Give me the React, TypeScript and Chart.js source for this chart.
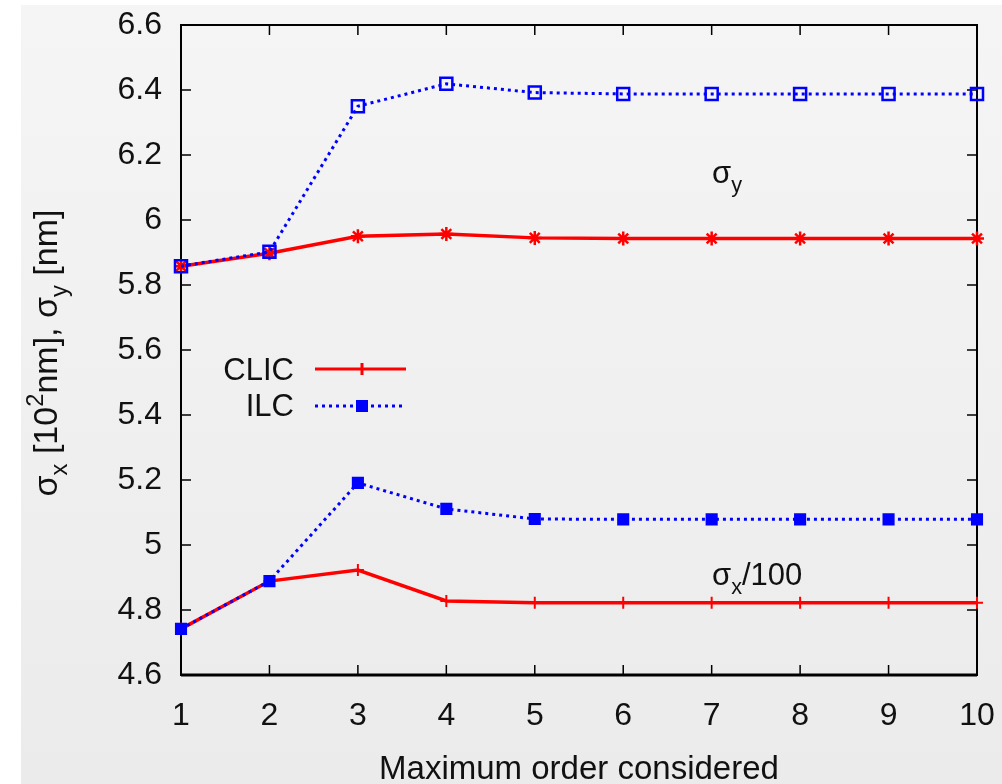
import React, { useEffect, useRef } from "react";
import { Chart, registerables } from "chart.js";

Chart.register(...registerables);

const orders = [1, 2, 3, 4, 5, 6, 7, 8, 9, 10];
const ilcSigmaY = [5.858, 5.902, 6.35, 6.419, 6.392, 6.388, 6.388, 6.388, 6.388, 6.388];
const clicSigmaY = [5.858, 5.898, 5.95, 5.957, 5.945, 5.943, 5.943, 5.943, 5.943, 5.943];
const ilcSigmaX = [4.742, 4.889, 5.191, 5.111, 5.08, 5.079, 5.079, 5.079, 5.079, 5.079];
const clicSigmaX = [4.742, 4.889, 4.923, 4.828, 4.822, 4.822, 4.822, 4.822, 4.822, 4.822];
const yTickValues = [4.6, 4.8, 5.0, 5.2, 5.4, 5.6, 5.8, 6.0, 6.2, 6.4, 6.6];
const seriesNames = ["CLIC", "ILC"];
const xTitle = "Maximum order considered";

const FONT = "'Liberation Sans', Arial, Helvetica, sans-serif";
const RED = "#ff0000";
const BLUE = "#0000ff";

function pts(vals: number[]) {
  return orders.map((o, i) => ({ x: o, y: vals[i] }));
}

function drawRich(
  ctx: CanvasRenderingContext2D,
  parts: { t: string; k?: "sub" | "sup" }[],
  x: number,
  y: number,
  size: number
) {
  let cx = x;
  for (const p of parts) {
    const s = p.k ? size * 0.7 : size;
    ctx.font = `${s}px ${FONT}`;
    const dy = p.k === "sub" ? size * 0.28 : p.k === "sup" ? -size * 0.42 : 0;
    ctx.fillText(p.t, cx, y + dy);
    cx += ctx.measureText(p.t).width;
  }
  return cx - x;
}

function measureRich(ctx: CanvasRenderingContext2D, parts: { t: string; k?: "sub" | "sup" }[], size: number) {
  let w = 0;
  for (const p of parts) {
    const s = p.k ? size * 0.7 : size;
    ctx.font = `${s}px ${FONT}`;
    w += ctx.measureText(p.t).width;
  }
  return w;
}

const decor = {
  id: "decor",
  beforeDraw(chart: any) {
    const ctx = chart.ctx as CanvasRenderingContext2D;
    ctx.save();
    ctx.fillStyle = "#ffffff";
    ctx.fillRect(0, 0, chart.width, chart.height);
    const g = ctx.createLinearGradient(0, 5, 0, chart.height);
    g.addColorStop(0, "#f5f5f5");
    g.addColorStop(1, "#ebebeb");
    ctx.fillStyle = g;
    ctx.fillRect(21, 5, chart.width - 21, chart.height - 5);
    ctx.restore();
  },
  beforeDatasetsDraw(chart: any) {
    const ctx = chart.ctx as CanvasRenderingContext2D;
    const a = chart.chartArea;
    const xs = chart.scales.x;
    const ys = chart.scales.y;
    ctx.save();
    ctx.strokeStyle = "#000";
    ctx.lineWidth = 1.5;
    const tl = 10;
    ctx.beginPath();
    for (const v of orders) {
      const px = xs.getPixelForValue(v);
      ctx.moveTo(px, a.bottom);
      ctx.lineTo(px, a.bottom - tl);
      ctx.moveTo(px, a.top);
      ctx.lineTo(px, a.top + tl);
    }
    for (const v of yTickValues) {
      const py = ys.getPixelForValue(v);
      ctx.moveTo(a.left, py);
      ctx.lineTo(a.left + tl, py);
      ctx.moveTo(a.right, py);
      ctx.lineTo(a.right - tl, py);
    }
    ctx.stroke();
    ctx.lineWidth = 2;
    ctx.strokeRect(a.left, a.top, a.right - a.left, a.bottom - a.top);
    ctx.lineWidth = 3;
    ctx.beginPath();
    ctx.moveTo(a.left, a.bottom);
    ctx.lineTo(a.right, a.bottom);
    ctx.stroke();
    ctx.restore();
  },
  afterDraw(chart: any) {
    const ctx = chart.ctx as CanvasRenderingContext2D;
    const a = chart.chartArea;
    ctx.save();
    ctx.fillStyle = "#111";
    ctx.textBaseline = "alphabetic";

    // legend
    const legendY = [380, 416];
    const lineY = [369, 406];
    ctx.font = `31px ${FONT}`;
    ctx.textAlign = "right";
    seriesNames.forEach((n, i) => {
      ctx.fillStyle = "#111";
      ctx.fillText(n, 294, legendY[i]);
    });
    ctx.textAlign = "left";
    // CLIC sample
    ctx.strokeStyle = RED;
    ctx.lineWidth = 3;
    ctx.setLineDash([]);
    ctx.beginPath();
    ctx.moveTo(315, lineY[0]);
    ctx.lineTo(406, lineY[0]);
    ctx.moveTo(362, lineY[0] - 6);
    ctx.lineTo(362, lineY[0] + 6);
    ctx.stroke();
    // ILC sample
    ctx.strokeStyle = BLUE;
    ctx.setLineDash([3, 4]);
    ctx.beginPath();
    ctx.moveTo(315, lineY[1]);
    ctx.lineTo(406, lineY[1]);
    ctx.stroke();
    ctx.setLineDash([]);
    ctx.fillStyle = BLUE;
    ctx.fillRect(356, lineY[1] - 6, 12, 12);

    // annotations
    ctx.fillStyle = "#111";
    drawRich(ctx, [{ t: "σ" }, { t: "y", k: "sub" }], 712, 183, 31);
    drawRich(ctx, [{ t: "σ" }, { t: "x", k: "sub" }, { t: "/100" }], 712, 585, 31);

    // x title
    ctx.font = `33px ${FONT}`;
    ctx.textAlign = "center";
    ctx.fillText(xTitle, (a.left + a.right) / 2, 779);

    // y title
    const parts: { t: string; k?: "sub" | "sup" }[] = [
      { t: "σ" },
      { t: "x", k: "sub" },
      { t: " [10" },
      { t: "2", k: "sup" },
      { t: "nm], σ" },
      { t: "y", k: "sub" },
      { t: " [nm]" },
    ];
    const size = 34;
    const w = measureRich(ctx, parts, size);
    ctx.translate(57, 353);
    ctx.rotate(-Math.PI / 2);
    ctx.textAlign = "left";
    drawRich(ctx, parts, -w / 2, 0, size);
    ctx.restore();
  },
};

export default function App() {
  const ref = useRef<HTMLCanvasElement | null>(null);
  useEffect(() => {
    document.body.style.margin = "0";
    const canvas = ref.current;
    if (!canvas) return;
    Chart.defaults.font.family = FONT;
    const chart = new Chart(canvas, {
      type: "line",
      data: {
        datasets: [
          {
            label: seriesNames[1] + " sx",
            data: pts(ilcSigmaX),
            borderColor: BLUE,
            backgroundColor: BLUE,
            borderWidth: 3,
            borderDash: [3, 4],
            pointStyle: "rect",
            pointRadius: 7.5,
            pointBorderWidth: 1.5,
            pointBorderColor: BLUE,
            pointBackgroundColor: BLUE,
            tension: 0,
            clip: false,
          } as any,
          {
            label: seriesNames[1] + " sy",
            data: pts(ilcSigmaY),
            borderColor: BLUE,
            backgroundColor: "rgba(0,0,0,0)",
            borderWidth: 3,
            borderDash: [3, 4],
            pointStyle: "rect",
            pointRadius: 8.5,
            pointBorderWidth: 2.5,
            pointBorderColor: BLUE,
            pointBackgroundColor: "rgba(0,0,0,0)",
            tension: 0,
            clip: false,
          } as any,
          {
            label: seriesNames[0] + " sx",
            data: pts(clicSigmaX),
            borderColor: RED,
            backgroundColor: RED,
            borderWidth: 3.5,
            pointStyle: "cross",
            pointRadius: 6,
            pointBorderWidth: 2,
            pointBorderColor: RED,
            tension: 0,
            clip: false,
          } as any,
          {
            label: seriesNames[0] + " sy",
            data: pts(clicSigmaY),
            borderColor: RED,
            backgroundColor: RED,
            borderWidth: 3.5,
            pointStyle: "star",
            pointRadius: 7,
            pointBorderWidth: 2.5,
            pointBorderColor: RED,
            tension: 0,
            clip: false,
          } as any,
        ],
      },
      options: {
        animation: false,
        responsive: false,
        maintainAspectRatio: false,
        layout: { padding: { left: 0, right: 25, top: 25, bottom: 0 } },
        plugins: { legend: { display: false }, tooltip: { enabled: false } },
        scales: {
          x: {
            type: "linear",
            min: 1,
            max: 10,
            grid: { display: false, drawTicks: false },
            border: { display: false },
            ticks: {
              stepSize: 1,
              autoSkip: false,
              maxRotation: 0,
              color: "#111",
              font: { size: 32, family: FONT },
              padding: 22,
            },
            afterBuildTicks: (s: any) => {
              s.ticks = orders.map((v) => ({ value: v }));
            },
            afterFit: (s: any) => {
              s.height = 109;
              s.paddingLeft = 0;
              s.paddingRight = 0;
            },
          },
          y: {
            type: "linear",
            min: 4.6,
            max: 6.6,
            grid: { display: false, drawTicks: false },
            border: { display: false },
            ticks: {
              color: "#111",
              font: { size: 32, family: FONT },
              padding: 19,
              callback: (v: any) => String(Number(Number(v).toFixed(1))),
            },
            afterBuildTicks: (s: any) => {
              s.ticks = yTickValues.map((v) => ({ value: v }));
            },
            afterFit: (s: any) => {
              s.width = 181;
              s.paddingTop = 0;
              s.paddingBottom = 0;
            },
          },
        },
      },
      plugins: [decor],
    });
    return () => chart.destroy();
  }, []);
  return <canvas ref={ref} width={1002} height={784} style={{ display: "block" }} />;
}
